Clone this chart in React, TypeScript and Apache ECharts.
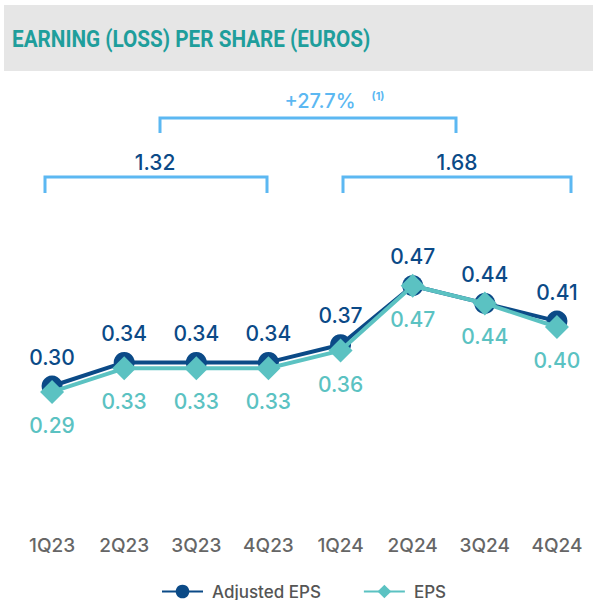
import React, { useEffect, useRef } from "react";
import * as echarts from "echarts";

const categories = ["1Q23", "2Q23", "3Q23", "4Q23", "1Q24", "2Q24", "3Q24", "4Q24"];
const adjustedEps = [0.30, 0.34, 0.34, 0.34, 0.37, 0.47, 0.44, 0.41];
const eps = [0.29, 0.33, 0.33, 0.33, 0.36, 0.47, 0.44, 0.40];
const yearTotals = ["1.32", "1.68"];
const growthLabel = "+27.7%";
const growthNote = "(1)";
const titleText = "EARNING (LOSS) PER SHARE (EUROS)";

const NAVY = "#0b4a87";
const TEAL = "#5bc2c2";
const BRACKET = "#5cb8f2";
const FONT = "Inter, 'Open Sans', sans-serif";

export default function App() {
  const ref = useRef<HTMLDivElement>(null);
  useEffect(() => {
    if (!ref.current) return;
    const chart = echarts.init(ref.current, null, { renderer: "svg" });
    const bracketStyle = { stroke: BRACKET, lineWidth: 3, fill: "none" };
    chart.setOption({
      animation: false,
      backgroundColor: "#ffffff",
      textStyle: { fontFamily: FONT },
      grid: { left: 16, right: 0, top: 268, bottom: 96, containLabel: false },
      xAxis: {
        type: "category",
        data: categories,
        boundaryGap: true,
        axisLine: { show: false },
        axisTick: { show: false },
        axisLabel: { margin: 32, color: "#666666", fontSize: 19, fontFamily: FONT, fontWeight: 500 },
      },
      yAxis: {
        type: "value",
        min: 0.1,
        max: 0.5,
        show: false,
        splitLine: { show: false },
      },
      legend: {
        bottom: -5,
        left: 156,
        itemGap: 42,
        itemWidth: 41,
        itemHeight: 17,
        textStyle: { color: "#555555", fontSize: 17, fontFamily: FONT, fontWeight: 500, padding: [0, 0, 0, 4] },
        data: ["Adjusted EPS", "EPS"],
      },
      series: [
        {
          name: "Adjusted EPS",
          type: "line",
          data: adjustedEps,
          symbol: "circle",
          symbolSize: 21,
          lineStyle: { color: NAVY, width: 4 },
          itemStyle: { color: NAVY },
          label: {
            show: true,
            position: "top",
            distance: 8,
            color: NAVY,
            fontSize: 21,
            fontFamily: FONT,
            fontWeight: 500,
            formatter: (p: any) => p.value.toFixed(2),
          },
          z: 2,
        },
        {
          name: "EPS",
          type: "line",
          data: eps,
          symbol: "diamond",
          symbolSize: 24,
          lineStyle: { color: TEAL, width: 4 },
          itemStyle: { color: TEAL },
          label: {
            show: true,
            position: "bottom",
            distance: 11,
            color: TEAL,
            fontSize: 21,
            fontFamily: FONT,
            fontWeight: 500,
            formatter: (p: any) => p.value.toFixed(2),
          },
          z: 3,
        },
      ],
      graphic: [
        { type: "rect", shape: { x: 4, y: 5, width: 589, height: 66 }, style: { fill: "#e6e6e6" }, z: 0 },
        {
          type: "text",
          x: 12,
          y: 39,
          scaleX: 0.9,
          style: {
            text: titleText,
            fill: "#1f9e9c",
            font: `bold 23px Roboto, sans-serif`,
            textVerticalAlign: "middle",
          },
          z: 1,
        },
        {
          type: "polyline",
          shape: { points: [[160, 133], [160, 118], [456, 118], [456, 133]] },
          style: bracketStyle,
        },
        {
          type: "text",
          x: 320,
          y: 101,
          style: { text: growthLabel, fill: BRACKET, font: `500 20px ${FONT}`, textAlign: "center", textVerticalAlign: "middle" },
        },
        {
          type: "text",
          x: 378,
          y: 96,
          style: { text: growthNote, fill: BRACKET, font: `bold 11px ${FONT}`, textAlign: "center", textVerticalAlign: "middle" },
        },
        {
          type: "polyline",
          shape: { points: [[45, 193], [45, 177], [267, 177], [267, 193]] },
          style: bracketStyle,
        },
        {
          type: "polyline",
          shape: { points: [[343, 193], [343, 177], [571, 177], [571, 193]] },
          style: bracketStyle,
        },
        {
          type: "text",
          x: 155,
          y: 162,
          style: { text: yearTotals[0], fill: NAVY, font: `500 21px ${FONT}`, textAlign: "center", textVerticalAlign: "middle" },
        },
        {
          type: "text",
          x: 457,
          y: 162,
          style: { text: yearTotals[1], fill: NAVY, font: `500 21px ${FONT}`, textAlign: "center", textVerticalAlign: "middle" },
        },
      ],
    });
    return () => chart.dispose();
  }, []);
  return (
    <div
      ref={ref}
      style={{ position: "fixed", left: 0, top: 0, width: 593, height: 600 }}
    />
  );
}
